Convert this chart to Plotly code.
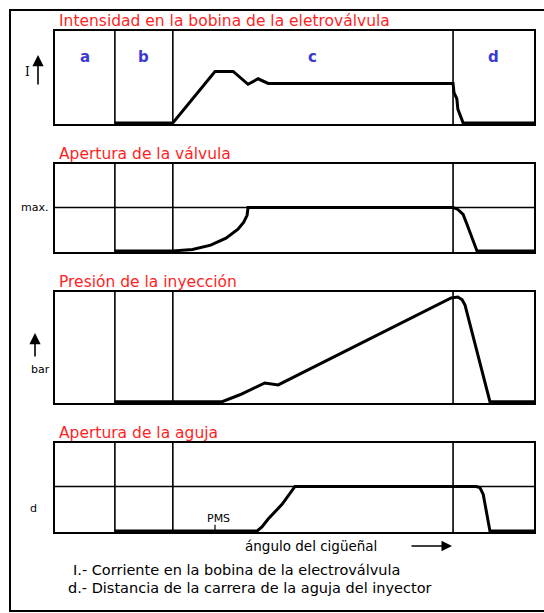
import plotly.graph_objects as go

# Crank-angle axis runs 0-100 across each panel; signals are normalised 0-1.
SECTION_BOUNDS = [12.5, 24.6, 83.1]
SECTION_LABELS = ["a", "b", "c", "d"]

TITLES = [
    "Intensidad en la bobina de la eletroválvula",
    "Apertura de la válvula",
    "Presión de la inyección",
    "Apertura de la aguja",
]

# Coil current
current_x = [12.5, 24.6, 33.4, 37.2, 40.3, 42.4, 44.5, 83.1, 83.3, 83.9, 84.1, 85.0, 85.2, 100]
current_y = [0, 0, 0.56, 0.56, 0.42, 0.48, 0.43, 0.43, 0.33, 0.26, 0.15, 0.04, 0, 0]

# Control valve opening
valve_x = [12.5, 24.6, 28.7, 32.5, 35.7, 38.2, 39.4, 40.1, 40.3, 83.1, 84.1, 85.2, 86.0, 86.8, 87.5, 88.1, 100]
valve_y = [0, 0, 0.017, 0.067, 0.147, 0.25, 0.33, 0.41, 0.5, 0.5, 0.477, 0.42, 0.307, 0.193, 0.08, 0, 0]
VALVE_MAX = 0.5

# Injection pressure
pressure_x = [12.5, 34.9, 38.6, 42.8, 43.8, 46.6, 82.7, 84.1, 85.0, 85.6, 90.8, 100]
pressure_y = [0, 0, 0.063, 0.153, 0.171, 0.153, 0.946, 0.955, 0.93, 0.88, 0, 0]

# Needle lift
needle_x = [12.5, 42.2, 43.2, 44.5, 47.4, 50.1, 87.9, 88.7, 89.4, 90.0, 90.8, 100]
needle_y = [0, 0, 0.045, 0.135, 0.303, 0.506, 0.506, 0.494, 0.416, 0.225, 0, 0]
NEEDLE_MAX = 0.506
PMS_X = 33.4

W, H = 544, 613


def px(x):
    return x / W


def py(y):
    return 1 - y / H


# panel boxes in pixels: (top, bottom)
PANEL_X = (55, 534)
PANELS = [(31, 124), (164, 252), (292, 403), (443, 532)]

series = [(current_x, current_y), (valve_x, valve_y), (pressure_x, pressure_y), (needle_x, needle_y)]

fig = go.Figure()
layout = dict(
    width=W, height=H, margin=dict(l=0, r=0, t=0, b=0),
    paper_bgcolor="white", plot_bgcolor="white", showlegend=False,
)
shapes = []
annotations = []


def label(text, x, y, font, xanchor="center", xref="paper"):
    annotations.append(dict(text=text, xref=xref, yref="paper", x=x, y=y,
                            xanchor=xanchor, yanchor="middle", showarrow=False, font=font))


def arrow(x_head, y_head, ax, ay, width=1.6, size=1.4):
    annotations.append(dict(text="", xref="paper", yref="paper", x=px(x_head), y=py(y_head),
                            ax=ax, ay=ay, showarrow=True, arrowhead=2, arrowsize=size,
                            arrowwidth=width, arrowcolor="black"))


for i, ((top, bot), (xs, ys)) in enumerate(zip(PANELS, series), start=1):
    sfx = "" if i == 1 else str(i)
    fig.add_trace(go.Scatter(
        x=xs, y=ys, mode="lines", xaxis=f"x{sfx}", yaxis=f"y{sfx}",
        line=dict(color="black", width=3), hoverinfo="skip",
    ))
    axis_common = dict(showline=True, mirror=True, linecolor="black", linewidth=1.6,
                       showgrid=False, zeroline=False, showticklabels=False, ticks="")
    layout[f"xaxis{sfx}"] = dict(axis_common, domain=[px(PANEL_X[0]), px(PANEL_X[1])],
                                 range=[0, 100], anchor=f"y{sfx}")
    layout[f"yaxis{sfx}"] = dict(axis_common, domain=[py(bot), py(top)],
                                 range=[-0.012, 1.0], anchor=f"x{sfx}")
    for b in SECTION_BOUNDS:
        shapes.append(dict(type="line", xref=f"x{sfx}", yref=f"y{sfx} domain",
                           x0=b, x1=b, y0=0, y1=1, line=dict(color="black", width=1.6)))
    label(TITLES[i - 1], px(57), py(top - 10),
          dict(family="DejaVu Sans", size=15.5, color="#ff1f1f"), xanchor="left")

# Reference levels: "max." valve opening and needle stroke "d"
shapes.append(dict(type="line", xref="x2 domain", yref="y2", x0=0, x1=1,
                   y0=VALVE_MAX, y1=VALVE_MAX, line=dict(color="black", width=1.6)))
shapes.append(dict(type="line", xref="x4 domain", yref="y4", x0=0, x1=1,
                   y0=NEEDLE_MAX, y1=NEEDLE_MAX, line=dict(color="black", width=1.6)))

# PMS tick
shapes.append(dict(type="line", xref="x4", yref="y4", x0=PMS_X, x1=PMS_X,
                   y0=0, y1=0.07, line=dict(color="black", width=1.2)))

# Outer frame
shapes.append(dict(type="rect", xref="paper", yref="paper",
                   x0=px(10), x1=1.05, y0=py(611), y1=py(10),
                   line=dict(color="black", width=2)))

# Section letters
letter_pos = [SECTION_BOUNDS[0] / 2,
              (SECTION_BOUNDS[0] + SECTION_BOUNDS[1]) / 2,
              (SECTION_BOUNDS[1] + SECTION_BOUNDS[2]) / 2,
              (SECTION_BOUNDS[2] + 100) / 2]
for lbl, xv in zip(SECTION_LABELS, letter_pos):
    label(f"<b>{lbl}</b>", xv, py(57),
          dict(family="DejaVu Sans", size=15, color="#3a3ad0"), xref="x")

small = dict(family="DejaVu Sans", size=11, color="black")

# "I" with arrow
label("I", px(27), py(72), dict(family="DejaVu Serif", size=12, color="black"))
arrow(38, 55, 0, 31)
# "max."
label("max.", px(50), py(207), small, xanchor="right")
# "bar" with arrow
label("bar", px(40), py(369), small)
arrow(35, 333, 0, 25)
# "d"
label("d", px(33), py(508), small)
# PMS
label("PMS", PMS_X + 0.8, py(518), small, xref="x4")
# crank angle arrow
label("ángulo del cigüeñal", px(243), py(546),
      dict(family="DejaVu Sans", size=13.5, color="black"), xanchor="left")
arrow(452, 546, -42, 0, width=1.4, size=1.5)

# notes
note_font = dict(family="DejaVu Sans", size=14.5, color="black")
label("I.- Corriente en la bobina de la electroválvula", px(71), py(570), note_font, xanchor="left")
label("d.- Distancia de la carrera de la aguja del inyector", px(66), py(588), note_font, xanchor="left")

layout["shapes"] = shapes
layout["annotations"] = annotations
fig.update_layout(**layout)
fig.write_html("out.html")
